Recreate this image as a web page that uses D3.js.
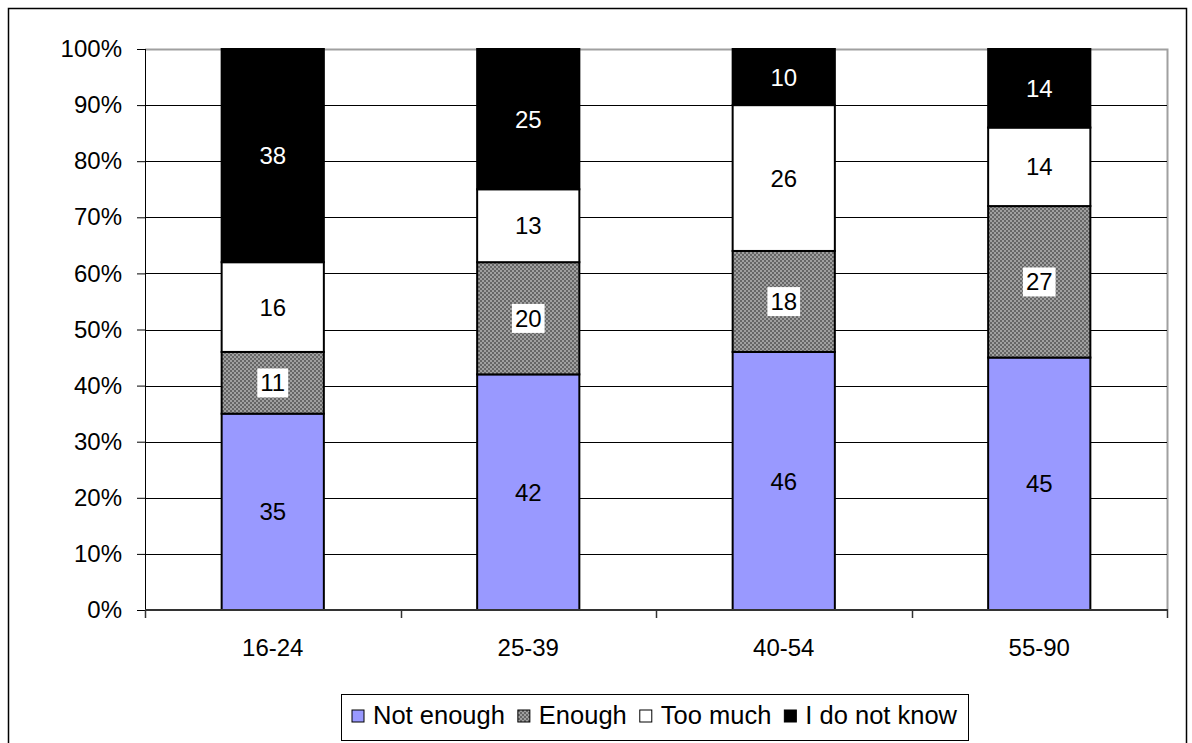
<!DOCTYPE html>
<html>
<head>
<meta charset="utf-8">
<script src="https://cdn.jsdelivr.net/npm/d3@7"></script>
<style>
  body { margin: 0; background: #fff; }
  text { font-family: "Liberation Sans", Arial, sans-serif; fill: #000; }
</style>
</head>
<body>
<div id="chart"></div>
<script>
// chart data
const categories = ["16-24", "25-39", "40-54", "55-90"];
const seriesNames = ["Not enough", "Enough", "Too much", "I do not know"];
const notEnough = [35, 42, 46, 45];
const enough = [11, 20, 18, 27];
const tooMuch = [16, 13, 26, 14];
const dontKnow = [38, 25, 10, 14];
const yTicks = [0, 10, 20, 30, 40, 50, 60, 70, 80, 90, 100];

const width = 1192, height = 743;
const plot = { left: 145, right: 1167, top: 49, bottom: 610 };
const fontSize = 24;

const svg = d3.select("#chart").append("svg")
    .attr("width", width)
    .attr("height", height);

// hatched fill for "Enough"
const defs = svg.append("defs");
const pat = defs.append("pattern")
    .attr("id", "hatch")
    .attr("patternUnits", "userSpaceOnUse")
    .attr("width", 4).attr("height", 4);
pat.append("rect").attr("width", 4).attr("height", 4).attr("fill", "#a0a0a0");
pat.append("rect").attr("x", 0).attr("y", 0).attr("width", 2).attr("height", 2).attr("fill", "#666");
pat.append("rect").attr("x", 2).attr("y", 2).attr("width", 2).attr("height", 2).attr("fill", "#666");

const fills = ["#9999ff", "url(#hatch)", "#ffffff", "#000000"];

// outer frame
svg.append("rect")
    .attr("x", 8.5).attr("y", 8.5)
    .attr("width", 1178).attr("height", 760)
    .attr("fill", "none").attr("stroke", "#000").attr("stroke-width", 1.5);

const x = d3.scaleBand()
    .domain(categories)
    .range([plot.left, plot.right])
    .paddingInner(0.6)
    .paddingOuter(0.3);

const y = d3.scaleLinear()
    .domain([0, 100])
    .range([plot.bottom, plot.top]);

// plot area border (gray top / right)
svg.append("path")
    .attr("d", `M${plot.left},${plot.top + 0.5}H${plot.right + 0.5}V${plot.bottom}`)
    .attr("fill", "none").attr("stroke", "#a0a0a0").attr("stroke-width", 2);

// gridlines
svg.append("g")
    .selectAll("line")
    .data(yTicks.filter(t => t > 0 && t < 100))
    .join("line")
    .attr("x1", plot.left).attr("x2", plot.right)
    .attr("y1", d => Math.round(y(d)) + 0.5).attr("y2", d => Math.round(y(d)) + 0.5)
    .attr("stroke", "#000").attr("stroke-width", 1);

// y axis
const yAxis = svg.append("g")
    .attr("transform", `translate(${plot.left},0)`)
    .call(d3.axisLeft(y).tickValues(yTicks).tickFormat(d => d + "%").tickSize(8).tickPadding(15));
yAxis.select(".domain").attr("stroke", "#000").attr("d", `M0.5,${plot.top}V${plot.bottom + 8}`);
yAxis.selectAll("line").attr("stroke", "#000");
yAxis.selectAll("text").attr("font-size", fontSize).attr("font-family", "Liberation Sans, Arial, sans-serif");

// stacked data
const rows = categories.map((c, i) => ({
    cat: c,
    "Not enough": notEnough[i],
    "Enough": enough[i],
    "Too much": tooMuch[i],
    "I do not know": dontKnow[i]
}));
const stacked = d3.stack().keys(seriesNames)(rows);

const layers = svg.append("g")
    .selectAll("g")
    .data(stacked)
    .join("g")
    .attr("fill", (d, i) => fills[i]);

layers.selectAll("rect")
    .data(d => d)
    .join("rect")
    .attr("x", d => x(d.data.cat))
    .attr("y", d => y(d[1]))
    .attr("width", x.bandwidth())
    .attr("height", d => y(d[0]) - y(d[1]))
    .attr("stroke", "#000")
    .attr("stroke-width", 2);

// x axis
const xAxis = svg.append("g")
    .attr("transform", `translate(0,${plot.bottom})`);
xAxis.append("line")
    .attr("x1", plot.left).attr("x2", plot.right + 1)
    .attr("y1", 0).attr("y2", 0)
    .attr("stroke", "#333").attr("stroke-width", 2);
const edges = [plot.left].concat(categories.map(c => x(c) + x.bandwidth() / 2 + x.step() / 2));
xAxis.selectAll(".tick-mark")
    .data(edges)
    .join("line")
    .attr("class", "tick-mark")
    .attr("x1", d => Math.round(d) + 0.5).attr("x2", d => Math.round(d) + 0.5)
    .attr("y1", 0).attr("y2", 8)
    .attr("stroke", "#333").attr("stroke-width", 1.5);
xAxis.selectAll(".cat-label")
    .data(categories)
    .join("text")
    .attr("class", "cat-label")
    .attr("x", d => x(d) + x.bandwidth() / 2)
    .attr("y", 46)
    .attr("text-anchor", "middle")
    .attr("font-size", fontSize)
    .text(d => d);

// value labels
const labels = svg.append("g");
stacked.forEach((layer, li) => {
    layer.forEach(d => {
        const cx = x(d.data.cat) + x.bandwidth() / 2;
        const cy = (y(d[0]) + y(d[1])) / 2;
        const val = d[1] - d[0];
        const g = labels.append("g");
        const t = g.append("text")
            .attr("x", cx).attr("y", cy)
            .attr("dy", "0.36em")
            .attr("text-anchor", "middle")
            .attr("font-size", fontSize)
            .style("fill", li === 3 ? "#fff" : "#000")
            .text(val);
        if (li === 1) {
            const bb = t.node().getBBox();
            g.insert("rect", "text")
                .attr("x", bb.x - 3).attr("y", bb.y - 1)
                .attr("width", bb.width + 6).attr("height", bb.height + 2)
                .attr("fill", "#fff");
        }
    });
});

// legend
const legend = svg.append("g");
legend.append("rect")
    .attr("x", 341.5).attr("y", 694.5)
    .attr("width", 627).attr("height", 46)
    .attr("fill", "#fff").attr("stroke", "#000").attr("stroke-width", 1);
let lx = 352;
seriesNames.forEach((name, i) => {
    legend.append("rect")
        .attr("x", lx).attr("y", 710)
        .attr("width", 12).attr("height", 12)
        .attr("fill", fills[i])
        .attr("stroke", "#000").attr("stroke-width", 1);
    const t = legend.append("text")
        .attr("x", lx + 21).attr("y", 724)
        .attr("font-size", 25.5)
        .text(name);
    lx += 21 + t.node().getComputedTextLength() + 13;
});
</script>
</body>
</html>
